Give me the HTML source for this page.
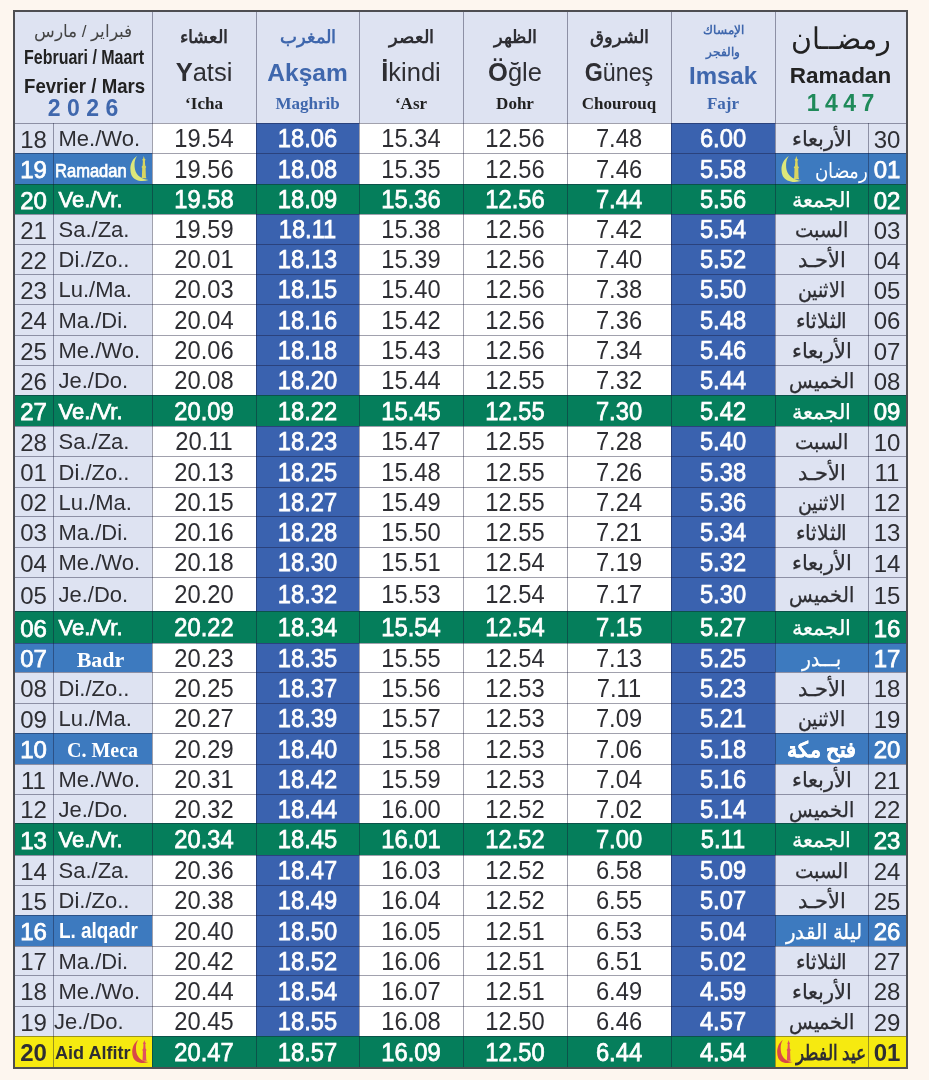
<!DOCTYPE html><html><head><meta charset="utf-8"><style>
html,body{margin:0;padding:0}
body{width:929px;height:1080px;background:#fdf6ef;position:relative;overflow:hidden;font-family:"Liberation Sans",sans-serif;color:#2e2e33}
.c{position:absolute;box-sizing:border-box}
.t{position:absolute;white-space:nowrap;line-height:1}
.hl{position:absolute;height:1px}
.vl{position:absolute;width:1px}
.ser{font-family:"Liberation Serif",serif;font-weight:bold}
.sb{-webkit-text-stroke:.75px currentColor}
</style></head><body><div id="wrap" style="position:absolute;left:0;top:0;width:929px;height:1080px;filter:blur(0.45px)">

<div class="c" style="left:14px;top:10px;width:892px;height:1057px;background:#dee3f2"></div>
<div class="c" style="left:14px;top:123px;width:138px;height:30px;background:#dee3f2"></div>
<div class="c" style="left:775px;top:123px;width:131px;height:30px;background:#dee3f2"></div>
<div class="c" style="left:152px;top:123px;width:104px;height:30px;background:#ffffff"></div>
<div class="c" style="left:256px;top:123px;width:103px;height:30px;background:#3a62af"></div>
<div class="c" style="left:359px;top:123px;width:104px;height:30px;background:#ffffff"></div>
<div class="c" style="left:463px;top:123px;width:104px;height:30px;background:#ffffff"></div>
<div class="c" style="left:567px;top:123px;width:104px;height:30px;background:#ffffff"></div>
<div class="c" style="left:671px;top:123px;width:104px;height:30px;background:#3a62af"></div>
<div class="c" style="left:14px;top:153px;width:138px;height:31px;background:#3d7abf"></div>
<div class="c" style="left:775px;top:153px;width:131px;height:31px;background:#3d7abf"></div>
<div class="c" style="left:152px;top:153px;width:104px;height:31px;background:#ffffff"></div>
<div class="c" style="left:256px;top:153px;width:103px;height:31px;background:#3a62af"></div>
<div class="c" style="left:359px;top:153px;width:104px;height:31px;background:#ffffff"></div>
<div class="c" style="left:463px;top:153px;width:104px;height:31px;background:#ffffff"></div>
<div class="c" style="left:567px;top:153px;width:104px;height:31px;background:#ffffff"></div>
<div class="c" style="left:671px;top:153px;width:104px;height:31px;background:#3a62af"></div>
<div class="c" style="left:14px;top:184px;width:138px;height:30px;background:#057e5b"></div>
<div class="c" style="left:775px;top:184px;width:131px;height:30px;background:#057e5b"></div>
<div class="c" style="left:152px;top:184px;width:104px;height:30px;background:#057e5b"></div>
<div class="c" style="left:256px;top:184px;width:103px;height:30px;background:#057e5b"></div>
<div class="c" style="left:359px;top:184px;width:104px;height:30px;background:#057e5b"></div>
<div class="c" style="left:463px;top:184px;width:104px;height:30px;background:#057e5b"></div>
<div class="c" style="left:567px;top:184px;width:104px;height:30px;background:#057e5b"></div>
<div class="c" style="left:671px;top:184px;width:104px;height:30px;background:#057e5b"></div>
<div class="c" style="left:14px;top:214px;width:138px;height:30px;background:#dee3f2"></div>
<div class="c" style="left:775px;top:214px;width:131px;height:30px;background:#dee3f2"></div>
<div class="c" style="left:152px;top:214px;width:104px;height:30px;background:#ffffff"></div>
<div class="c" style="left:256px;top:214px;width:103px;height:30px;background:#3a62af"></div>
<div class="c" style="left:359px;top:214px;width:104px;height:30px;background:#ffffff"></div>
<div class="c" style="left:463px;top:214px;width:104px;height:30px;background:#ffffff"></div>
<div class="c" style="left:567px;top:214px;width:104px;height:30px;background:#ffffff"></div>
<div class="c" style="left:671px;top:214px;width:104px;height:30px;background:#3a62af"></div>
<div class="c" style="left:14px;top:244px;width:138px;height:30px;background:#dee3f2"></div>
<div class="c" style="left:775px;top:244px;width:131px;height:30px;background:#dee3f2"></div>
<div class="c" style="left:152px;top:244px;width:104px;height:30px;background:#ffffff"></div>
<div class="c" style="left:256px;top:244px;width:103px;height:30px;background:#3a62af"></div>
<div class="c" style="left:359px;top:244px;width:104px;height:30px;background:#ffffff"></div>
<div class="c" style="left:463px;top:244px;width:104px;height:30px;background:#ffffff"></div>
<div class="c" style="left:567px;top:244px;width:104px;height:30px;background:#ffffff"></div>
<div class="c" style="left:671px;top:244px;width:104px;height:30px;background:#3a62af"></div>
<div class="c" style="left:14px;top:274px;width:138px;height:30px;background:#dee3f2"></div>
<div class="c" style="left:775px;top:274px;width:131px;height:30px;background:#dee3f2"></div>
<div class="c" style="left:152px;top:274px;width:104px;height:30px;background:#ffffff"></div>
<div class="c" style="left:256px;top:274px;width:103px;height:30px;background:#3a62af"></div>
<div class="c" style="left:359px;top:274px;width:104px;height:30px;background:#ffffff"></div>
<div class="c" style="left:463px;top:274px;width:104px;height:30px;background:#ffffff"></div>
<div class="c" style="left:567px;top:274px;width:104px;height:30px;background:#ffffff"></div>
<div class="c" style="left:671px;top:274px;width:104px;height:30px;background:#3a62af"></div>
<div class="c" style="left:14px;top:304px;width:138px;height:31px;background:#dee3f2"></div>
<div class="c" style="left:775px;top:304px;width:131px;height:31px;background:#dee3f2"></div>
<div class="c" style="left:152px;top:304px;width:104px;height:31px;background:#ffffff"></div>
<div class="c" style="left:256px;top:304px;width:103px;height:31px;background:#3a62af"></div>
<div class="c" style="left:359px;top:304px;width:104px;height:31px;background:#ffffff"></div>
<div class="c" style="left:463px;top:304px;width:104px;height:31px;background:#ffffff"></div>
<div class="c" style="left:567px;top:304px;width:104px;height:31px;background:#ffffff"></div>
<div class="c" style="left:671px;top:304px;width:104px;height:31px;background:#3a62af"></div>
<div class="c" style="left:14px;top:335px;width:138px;height:30px;background:#dee3f2"></div>
<div class="c" style="left:775px;top:335px;width:131px;height:30px;background:#dee3f2"></div>
<div class="c" style="left:152px;top:335px;width:104px;height:30px;background:#ffffff"></div>
<div class="c" style="left:256px;top:335px;width:103px;height:30px;background:#3a62af"></div>
<div class="c" style="left:359px;top:335px;width:104px;height:30px;background:#ffffff"></div>
<div class="c" style="left:463px;top:335px;width:104px;height:30px;background:#ffffff"></div>
<div class="c" style="left:567px;top:335px;width:104px;height:30px;background:#ffffff"></div>
<div class="c" style="left:671px;top:335px;width:104px;height:30px;background:#3a62af"></div>
<div class="c" style="left:14px;top:365px;width:138px;height:30px;background:#dee3f2"></div>
<div class="c" style="left:775px;top:365px;width:131px;height:30px;background:#dee3f2"></div>
<div class="c" style="left:152px;top:365px;width:104px;height:30px;background:#ffffff"></div>
<div class="c" style="left:256px;top:365px;width:103px;height:30px;background:#3a62af"></div>
<div class="c" style="left:359px;top:365px;width:104px;height:30px;background:#ffffff"></div>
<div class="c" style="left:463px;top:365px;width:104px;height:30px;background:#ffffff"></div>
<div class="c" style="left:567px;top:365px;width:104px;height:30px;background:#ffffff"></div>
<div class="c" style="left:671px;top:365px;width:104px;height:30px;background:#3a62af"></div>
<div class="c" style="left:14px;top:395px;width:138px;height:31px;background:#057e5b"></div>
<div class="c" style="left:775px;top:395px;width:131px;height:31px;background:#057e5b"></div>
<div class="c" style="left:152px;top:395px;width:104px;height:31px;background:#057e5b"></div>
<div class="c" style="left:256px;top:395px;width:103px;height:31px;background:#057e5b"></div>
<div class="c" style="left:359px;top:395px;width:104px;height:31px;background:#057e5b"></div>
<div class="c" style="left:463px;top:395px;width:104px;height:31px;background:#057e5b"></div>
<div class="c" style="left:567px;top:395px;width:104px;height:31px;background:#057e5b"></div>
<div class="c" style="left:671px;top:395px;width:104px;height:31px;background:#057e5b"></div>
<div class="c" style="left:14px;top:426px;width:138px;height:30px;background:#dee3f2"></div>
<div class="c" style="left:775px;top:426px;width:131px;height:30px;background:#dee3f2"></div>
<div class="c" style="left:152px;top:426px;width:104px;height:30px;background:#ffffff"></div>
<div class="c" style="left:256px;top:426px;width:103px;height:30px;background:#3a62af"></div>
<div class="c" style="left:359px;top:426px;width:104px;height:30px;background:#ffffff"></div>
<div class="c" style="left:463px;top:426px;width:104px;height:30px;background:#ffffff"></div>
<div class="c" style="left:567px;top:426px;width:104px;height:30px;background:#ffffff"></div>
<div class="c" style="left:671px;top:426px;width:104px;height:30px;background:#3a62af"></div>
<div class="c" style="left:14px;top:456px;width:138px;height:31px;background:#dee3f2"></div>
<div class="c" style="left:775px;top:456px;width:131px;height:31px;background:#dee3f2"></div>
<div class="c" style="left:152px;top:456px;width:104px;height:31px;background:#ffffff"></div>
<div class="c" style="left:256px;top:456px;width:103px;height:31px;background:#3a62af"></div>
<div class="c" style="left:359px;top:456px;width:104px;height:31px;background:#ffffff"></div>
<div class="c" style="left:463px;top:456px;width:104px;height:31px;background:#ffffff"></div>
<div class="c" style="left:567px;top:456px;width:104px;height:31px;background:#ffffff"></div>
<div class="c" style="left:671px;top:456px;width:104px;height:31px;background:#3a62af"></div>
<div class="c" style="left:14px;top:487px;width:138px;height:29px;background:#dee3f2"></div>
<div class="c" style="left:775px;top:487px;width:131px;height:29px;background:#dee3f2"></div>
<div class="c" style="left:152px;top:487px;width:104px;height:29px;background:#ffffff"></div>
<div class="c" style="left:256px;top:487px;width:103px;height:29px;background:#3a62af"></div>
<div class="c" style="left:359px;top:487px;width:104px;height:29px;background:#ffffff"></div>
<div class="c" style="left:463px;top:487px;width:104px;height:29px;background:#ffffff"></div>
<div class="c" style="left:567px;top:487px;width:104px;height:29px;background:#ffffff"></div>
<div class="c" style="left:671px;top:487px;width:104px;height:29px;background:#3a62af"></div>
<div class="c" style="left:14px;top:516px;width:138px;height:31px;background:#dee3f2"></div>
<div class="c" style="left:775px;top:516px;width:131px;height:31px;background:#dee3f2"></div>
<div class="c" style="left:152px;top:516px;width:104px;height:31px;background:#ffffff"></div>
<div class="c" style="left:256px;top:516px;width:103px;height:31px;background:#3a62af"></div>
<div class="c" style="left:359px;top:516px;width:104px;height:31px;background:#ffffff"></div>
<div class="c" style="left:463px;top:516px;width:104px;height:31px;background:#ffffff"></div>
<div class="c" style="left:567px;top:516px;width:104px;height:31px;background:#ffffff"></div>
<div class="c" style="left:671px;top:516px;width:104px;height:31px;background:#3a62af"></div>
<div class="c" style="left:14px;top:547px;width:138px;height:30px;background:#dee3f2"></div>
<div class="c" style="left:775px;top:547px;width:131px;height:30px;background:#dee3f2"></div>
<div class="c" style="left:152px;top:547px;width:104px;height:30px;background:#ffffff"></div>
<div class="c" style="left:256px;top:547px;width:103px;height:30px;background:#3a62af"></div>
<div class="c" style="left:359px;top:547px;width:104px;height:30px;background:#ffffff"></div>
<div class="c" style="left:463px;top:547px;width:104px;height:30px;background:#ffffff"></div>
<div class="c" style="left:567px;top:547px;width:104px;height:30px;background:#ffffff"></div>
<div class="c" style="left:671px;top:547px;width:104px;height:30px;background:#3a62af"></div>
<div class="c" style="left:14px;top:577px;width:138px;height:34px;background:#dee3f2"></div>
<div class="c" style="left:775px;top:577px;width:131px;height:34px;background:#dee3f2"></div>
<div class="c" style="left:152px;top:577px;width:104px;height:34px;background:#ffffff"></div>
<div class="c" style="left:256px;top:577px;width:103px;height:34px;background:#3a62af"></div>
<div class="c" style="left:359px;top:577px;width:104px;height:34px;background:#ffffff"></div>
<div class="c" style="left:463px;top:577px;width:104px;height:34px;background:#ffffff"></div>
<div class="c" style="left:567px;top:577px;width:104px;height:34px;background:#ffffff"></div>
<div class="c" style="left:671px;top:577px;width:104px;height:34px;background:#3a62af"></div>
<div class="c" style="left:14px;top:611px;width:138px;height:32px;background:#057e5b"></div>
<div class="c" style="left:775px;top:611px;width:131px;height:32px;background:#057e5b"></div>
<div class="c" style="left:152px;top:611px;width:104px;height:32px;background:#057e5b"></div>
<div class="c" style="left:256px;top:611px;width:103px;height:32px;background:#057e5b"></div>
<div class="c" style="left:359px;top:611px;width:104px;height:32px;background:#057e5b"></div>
<div class="c" style="left:463px;top:611px;width:104px;height:32px;background:#057e5b"></div>
<div class="c" style="left:567px;top:611px;width:104px;height:32px;background:#057e5b"></div>
<div class="c" style="left:671px;top:611px;width:104px;height:32px;background:#057e5b"></div>
<div class="c" style="left:14px;top:643px;width:138px;height:29px;background:#3d7abf"></div>
<div class="c" style="left:775px;top:643px;width:131px;height:29px;background:#3d7abf"></div>
<div class="c" style="left:152px;top:643px;width:104px;height:29px;background:#ffffff"></div>
<div class="c" style="left:256px;top:643px;width:103px;height:29px;background:#3a62af"></div>
<div class="c" style="left:359px;top:643px;width:104px;height:29px;background:#ffffff"></div>
<div class="c" style="left:463px;top:643px;width:104px;height:29px;background:#ffffff"></div>
<div class="c" style="left:567px;top:643px;width:104px;height:29px;background:#ffffff"></div>
<div class="c" style="left:671px;top:643px;width:104px;height:29px;background:#3a62af"></div>
<div class="c" style="left:14px;top:672px;width:138px;height:31px;background:#dee3f2"></div>
<div class="c" style="left:775px;top:672px;width:131px;height:31px;background:#dee3f2"></div>
<div class="c" style="left:152px;top:672px;width:104px;height:31px;background:#ffffff"></div>
<div class="c" style="left:256px;top:672px;width:103px;height:31px;background:#3a62af"></div>
<div class="c" style="left:359px;top:672px;width:104px;height:31px;background:#ffffff"></div>
<div class="c" style="left:463px;top:672px;width:104px;height:31px;background:#ffffff"></div>
<div class="c" style="left:567px;top:672px;width:104px;height:31px;background:#ffffff"></div>
<div class="c" style="left:671px;top:672px;width:104px;height:31px;background:#3a62af"></div>
<div class="c" style="left:14px;top:703px;width:138px;height:30px;background:#dee3f2"></div>
<div class="c" style="left:775px;top:703px;width:131px;height:30px;background:#dee3f2"></div>
<div class="c" style="left:152px;top:703px;width:104px;height:30px;background:#ffffff"></div>
<div class="c" style="left:256px;top:703px;width:103px;height:30px;background:#3a62af"></div>
<div class="c" style="left:359px;top:703px;width:104px;height:30px;background:#ffffff"></div>
<div class="c" style="left:463px;top:703px;width:104px;height:30px;background:#ffffff"></div>
<div class="c" style="left:567px;top:703px;width:104px;height:30px;background:#ffffff"></div>
<div class="c" style="left:671px;top:703px;width:104px;height:30px;background:#3a62af"></div>
<div class="c" style="left:14px;top:733px;width:138px;height:31px;background:#3d7abf"></div>
<div class="c" style="left:775px;top:733px;width:131px;height:31px;background:#3d7abf"></div>
<div class="c" style="left:152px;top:733px;width:104px;height:31px;background:#ffffff"></div>
<div class="c" style="left:256px;top:733px;width:103px;height:31px;background:#3a62af"></div>
<div class="c" style="left:359px;top:733px;width:104px;height:31px;background:#ffffff"></div>
<div class="c" style="left:463px;top:733px;width:104px;height:31px;background:#ffffff"></div>
<div class="c" style="left:567px;top:733px;width:104px;height:31px;background:#ffffff"></div>
<div class="c" style="left:671px;top:733px;width:104px;height:31px;background:#3a62af"></div>
<div class="c" style="left:14px;top:764px;width:138px;height:30px;background:#dee3f2"></div>
<div class="c" style="left:775px;top:764px;width:131px;height:30px;background:#dee3f2"></div>
<div class="c" style="left:152px;top:764px;width:104px;height:30px;background:#ffffff"></div>
<div class="c" style="left:256px;top:764px;width:103px;height:30px;background:#3a62af"></div>
<div class="c" style="left:359px;top:764px;width:104px;height:30px;background:#ffffff"></div>
<div class="c" style="left:463px;top:764px;width:104px;height:30px;background:#ffffff"></div>
<div class="c" style="left:567px;top:764px;width:104px;height:30px;background:#ffffff"></div>
<div class="c" style="left:671px;top:764px;width:104px;height:30px;background:#3a62af"></div>
<div class="c" style="left:14px;top:794px;width:138px;height:29px;background:#dee3f2"></div>
<div class="c" style="left:775px;top:794px;width:131px;height:29px;background:#dee3f2"></div>
<div class="c" style="left:152px;top:794px;width:104px;height:29px;background:#ffffff"></div>
<div class="c" style="left:256px;top:794px;width:103px;height:29px;background:#3a62af"></div>
<div class="c" style="left:359px;top:794px;width:104px;height:29px;background:#ffffff"></div>
<div class="c" style="left:463px;top:794px;width:104px;height:29px;background:#ffffff"></div>
<div class="c" style="left:567px;top:794px;width:104px;height:29px;background:#ffffff"></div>
<div class="c" style="left:671px;top:794px;width:104px;height:29px;background:#3a62af"></div>
<div class="c" style="left:14px;top:823px;width:138px;height:32px;background:#057e5b"></div>
<div class="c" style="left:775px;top:823px;width:131px;height:32px;background:#057e5b"></div>
<div class="c" style="left:152px;top:823px;width:104px;height:32px;background:#057e5b"></div>
<div class="c" style="left:256px;top:823px;width:103px;height:32px;background:#057e5b"></div>
<div class="c" style="left:359px;top:823px;width:104px;height:32px;background:#057e5b"></div>
<div class="c" style="left:463px;top:823px;width:104px;height:32px;background:#057e5b"></div>
<div class="c" style="left:567px;top:823px;width:104px;height:32px;background:#057e5b"></div>
<div class="c" style="left:671px;top:823px;width:104px;height:32px;background:#057e5b"></div>
<div class="c" style="left:14px;top:855px;width:138px;height:30px;background:#dee3f2"></div>
<div class="c" style="left:775px;top:855px;width:131px;height:30px;background:#dee3f2"></div>
<div class="c" style="left:152px;top:855px;width:104px;height:30px;background:#ffffff"></div>
<div class="c" style="left:256px;top:855px;width:103px;height:30px;background:#3a62af"></div>
<div class="c" style="left:359px;top:855px;width:104px;height:30px;background:#ffffff"></div>
<div class="c" style="left:463px;top:855px;width:104px;height:30px;background:#ffffff"></div>
<div class="c" style="left:567px;top:855px;width:104px;height:30px;background:#ffffff"></div>
<div class="c" style="left:671px;top:855px;width:104px;height:30px;background:#3a62af"></div>
<div class="c" style="left:14px;top:885px;width:138px;height:30px;background:#dee3f2"></div>
<div class="c" style="left:775px;top:885px;width:131px;height:30px;background:#dee3f2"></div>
<div class="c" style="left:152px;top:885px;width:104px;height:30px;background:#ffffff"></div>
<div class="c" style="left:256px;top:885px;width:103px;height:30px;background:#3a62af"></div>
<div class="c" style="left:359px;top:885px;width:104px;height:30px;background:#ffffff"></div>
<div class="c" style="left:463px;top:885px;width:104px;height:30px;background:#ffffff"></div>
<div class="c" style="left:567px;top:885px;width:104px;height:30px;background:#ffffff"></div>
<div class="c" style="left:671px;top:885px;width:104px;height:30px;background:#3a62af"></div>
<div class="c" style="left:14px;top:915px;width:138px;height:31px;background:#3d7abf"></div>
<div class="c" style="left:775px;top:915px;width:131px;height:31px;background:#3d7abf"></div>
<div class="c" style="left:152px;top:915px;width:104px;height:31px;background:#ffffff"></div>
<div class="c" style="left:256px;top:915px;width:103px;height:31px;background:#3a62af"></div>
<div class="c" style="left:359px;top:915px;width:104px;height:31px;background:#ffffff"></div>
<div class="c" style="left:463px;top:915px;width:104px;height:31px;background:#ffffff"></div>
<div class="c" style="left:567px;top:915px;width:104px;height:31px;background:#ffffff"></div>
<div class="c" style="left:671px;top:915px;width:104px;height:31px;background:#3a62af"></div>
<div class="c" style="left:14px;top:946px;width:138px;height:29px;background:#dee3f2"></div>
<div class="c" style="left:775px;top:946px;width:131px;height:29px;background:#dee3f2"></div>
<div class="c" style="left:152px;top:946px;width:104px;height:29px;background:#ffffff"></div>
<div class="c" style="left:256px;top:946px;width:103px;height:29px;background:#3a62af"></div>
<div class="c" style="left:359px;top:946px;width:104px;height:29px;background:#ffffff"></div>
<div class="c" style="left:463px;top:946px;width:104px;height:29px;background:#ffffff"></div>
<div class="c" style="left:567px;top:946px;width:104px;height:29px;background:#ffffff"></div>
<div class="c" style="left:671px;top:946px;width:104px;height:29px;background:#3a62af"></div>
<div class="c" style="left:14px;top:975px;width:138px;height:31px;background:#dee3f2"></div>
<div class="c" style="left:775px;top:975px;width:131px;height:31px;background:#dee3f2"></div>
<div class="c" style="left:152px;top:975px;width:104px;height:31px;background:#ffffff"></div>
<div class="c" style="left:256px;top:975px;width:103px;height:31px;background:#3a62af"></div>
<div class="c" style="left:359px;top:975px;width:104px;height:31px;background:#ffffff"></div>
<div class="c" style="left:463px;top:975px;width:104px;height:31px;background:#ffffff"></div>
<div class="c" style="left:567px;top:975px;width:104px;height:31px;background:#ffffff"></div>
<div class="c" style="left:671px;top:975px;width:104px;height:31px;background:#3a62af"></div>
<div class="c" style="left:14px;top:1006px;width:138px;height:30px;background:#dee3f2"></div>
<div class="c" style="left:775px;top:1006px;width:131px;height:30px;background:#dee3f2"></div>
<div class="c" style="left:152px;top:1006px;width:104px;height:30px;background:#ffffff"></div>
<div class="c" style="left:256px;top:1006px;width:103px;height:30px;background:#3a62af"></div>
<div class="c" style="left:359px;top:1006px;width:104px;height:30px;background:#ffffff"></div>
<div class="c" style="left:463px;top:1006px;width:104px;height:30px;background:#ffffff"></div>
<div class="c" style="left:567px;top:1006px;width:104px;height:30px;background:#ffffff"></div>
<div class="c" style="left:671px;top:1006px;width:104px;height:30px;background:#3a62af"></div>
<div class="c" style="left:14px;top:1036px;width:138px;height:31px;background:#f6ea10"></div>
<div class="c" style="left:775px;top:1036px;width:131px;height:31px;background:#f6ea10"></div>
<div class="c" style="left:152px;top:1036px;width:104px;height:31px;background:#057e5b"></div>
<div class="c" style="left:256px;top:1036px;width:103px;height:31px;background:#057e5b"></div>
<div class="c" style="left:359px;top:1036px;width:104px;height:31px;background:#057e5b"></div>
<div class="c" style="left:463px;top:1036px;width:104px;height:31px;background:#057e5b"></div>
<div class="c" style="left:567px;top:1036px;width:104px;height:31px;background:#057e5b"></div>
<div class="c" style="left:671px;top:1036px;width:104px;height:31px;background:#057e5b"></div>
<div class="hl" style="left:14px;top:123px;width:892px;background:rgba(20,20,50,.4)"></div>
<div class="hl" style="left:14px;top:153px;width:892px;background:rgba(20,20,50,.4)"></div>
<div class="hl" style="left:14px;top:184px;width:892px;background:rgba(20,20,50,.4)"></div>
<div class="hl" style="left:14px;top:214px;width:892px;background:rgba(20,20,50,.4)"></div>
<div class="hl" style="left:14px;top:244px;width:892px;background:rgba(20,20,50,.4)"></div>
<div class="hl" style="left:14px;top:274px;width:892px;background:rgba(20,20,50,.4)"></div>
<div class="hl" style="left:14px;top:304px;width:892px;background:rgba(20,20,50,.4)"></div>
<div class="hl" style="left:14px;top:335px;width:892px;background:rgba(20,20,50,.4)"></div>
<div class="hl" style="left:14px;top:365px;width:892px;background:rgba(20,20,50,.4)"></div>
<div class="hl" style="left:14px;top:395px;width:892px;background:rgba(20,20,50,.4)"></div>
<div class="hl" style="left:14px;top:426px;width:892px;background:rgba(20,20,50,.4)"></div>
<div class="hl" style="left:14px;top:456px;width:892px;background:rgba(20,20,50,.4)"></div>
<div class="hl" style="left:14px;top:487px;width:892px;background:rgba(20,20,50,.4)"></div>
<div class="hl" style="left:14px;top:516px;width:892px;background:rgba(20,20,50,.4)"></div>
<div class="hl" style="left:14px;top:547px;width:892px;background:rgba(20,20,50,.4)"></div>
<div class="hl" style="left:14px;top:577px;width:892px;background:rgba(20,20,50,.4)"></div>
<div class="hl" style="left:14px;top:611px;width:892px;background:rgba(20,20,50,.4)"></div>
<div class="hl" style="left:14px;top:643px;width:892px;background:rgba(20,20,50,.4)"></div>
<div class="hl" style="left:14px;top:672px;width:892px;background:rgba(20,20,50,.4)"></div>
<div class="hl" style="left:14px;top:703px;width:892px;background:rgba(20,20,50,.4)"></div>
<div class="hl" style="left:14px;top:733px;width:892px;background:rgba(20,20,50,.4)"></div>
<div class="hl" style="left:14px;top:764px;width:892px;background:rgba(20,20,50,.4)"></div>
<div class="hl" style="left:14px;top:794px;width:892px;background:rgba(20,20,50,.4)"></div>
<div class="hl" style="left:14px;top:823px;width:892px;background:rgba(20,20,50,.4)"></div>
<div class="hl" style="left:14px;top:855px;width:892px;background:rgba(20,20,50,.4)"></div>
<div class="hl" style="left:14px;top:885px;width:892px;background:rgba(20,20,50,.4)"></div>
<div class="hl" style="left:14px;top:915px;width:892px;background:rgba(20,20,50,.4)"></div>
<div class="hl" style="left:14px;top:946px;width:892px;background:rgba(20,20,50,.4)"></div>
<div class="hl" style="left:14px;top:975px;width:892px;background:rgba(20,20,50,.4)"></div>
<div class="hl" style="left:14px;top:1006px;width:892px;background:rgba(20,20,50,.4)"></div>
<div class="hl" style="left:14px;top:1036px;width:892px;background:rgba(20,20,50,.4)"></div>
<div class="hl" style="left:14px;top:1067px;width:892px;background:rgba(20,20,50,.4)"></div>
<div class="vl" style="left:53px;top:123px;height:944px;background:rgba(20,20,50,.4)"></div>
<div class="vl" style="left:152px;top:10px;height:1057px;background:rgba(20,20,50,.4)"></div>
<div class="vl" style="left:256px;top:10px;height:1057px;background:rgba(20,20,50,.4)"></div>
<div class="vl" style="left:359px;top:10px;height:1057px;background:rgba(20,20,50,.4)"></div>
<div class="vl" style="left:463px;top:10px;height:1057px;background:rgba(20,20,50,.4)"></div>
<div class="vl" style="left:567px;top:10px;height:1057px;background:rgba(20,20,50,.4)"></div>
<div class="vl" style="left:671px;top:10px;height:1057px;background:rgba(20,20,50,.4)"></div>
<div class="vl" style="left:775px;top:10px;height:1057px;background:rgba(20,20,50,.4)"></div>
<div class="vl" style="left:868px;top:123px;height:944px;background:rgba(20,20,50,.4)"></div>
<div class="c" style="left:13px;top:10px;width:895px;height:1059px;border:2px solid #4e4e52"></div>
<div class="t" style="left:14px;width:39px;text-align:center;top:127.7px;font-size:24px;font-weight:normal;color:#2e2e33">18</div>
<div class="t" style="left:58.5px;top:128.4px;font-size:22px;color:#2e2e33">Me./Wo.</div>
<div class="t" style="left:152px;width:104px;text-align:center;top:126.10000000000001px;font-size:25.5px;color:#2e2e33;transform:scaleX(.93)">19.54</div>
<div class="t sb" style="left:256px;width:103px;text-align:center;top:126.10000000000001px;font-size:25.5px;color:#fff;transform:scaleX(.93)">18.06</div>
<div class="t" style="left:359px;width:104px;text-align:center;top:126.10000000000001px;font-size:25.5px;color:#2e2e33;transform:scaleX(.93)">15.34</div>
<div class="t" style="left:463px;width:104px;text-align:center;top:126.10000000000001px;font-size:25.5px;color:#2e2e33;transform:scaleX(.93)">12.56</div>
<div class="t" style="left:567px;width:104px;text-align:center;top:126.10000000000001px;font-size:25.5px;color:#2e2e33;transform:scaleX(.93)">7.48</div>
<div class="t sb" style="left:671px;width:104px;text-align:center;top:126.10000000000001px;font-size:25.5px;color:#fff;transform:scaleX(.93)">6.00</div>
<div class="t" dir="rtl" style="left:775px;width:93px;text-align:center;top:128.0px;font-size:21px;font-weight:normal;color:#2e2e33;transform:scaleX(1.0);-webkit-text-stroke:.3px currentColor">الأربعاء</div>
<div class="t" style="left:868px;width:38px;text-align:center;top:127.7px;font-size:24px;font-weight:normal;color:#2e2e33">30</div>
<div class="t sb" style="left:14px;width:39px;text-align:center;top:158.2px;font-size:24px;font-weight:normal;color:#ffffff">19</div>
<div class="t sb" style="left:54.5px;top:160.6px;font-size:19px;color:#fff;transform:scaleX(.87);transform-origin:0 0">Ramadan</div>
<svg style="position:absolute;left:129px;top:155px" width="20" height="27" viewBox="0 0 20 26" preserveAspectRatio="none"><path d="M8 1 C1.5 5 0 13.5 2.5 19.5 C5 24.5 12.5 26.5 19.5 24 C13 23.5 7.5 20 6 14 C5 9 5.5 4.5 8 1 Z" fill="#dde77a"/><path d="M14.8 1 L15.6 3.5 L16.6 4.5 L15.9 5.5 L16.2 10 L17.3 11.5 L16.6 12.5 L16.9 21 L17.5 22.5 L12.3 22.5 L12.9 21 L13.2 12.5 L12.5 11.5 L13.6 10 L13.9 5.5 L13.2 4.5 L14.1 3.5 Z" fill="#d9d560"/></svg>
<div class="t" style="left:152px;width:104px;text-align:center;top:156.6px;font-size:25.5px;color:#2e2e33;transform:scaleX(.93)">19.56</div>
<div class="t sb" style="left:256px;width:103px;text-align:center;top:156.6px;font-size:25.5px;color:#fff;transform:scaleX(.93)">18.08</div>
<div class="t" style="left:359px;width:104px;text-align:center;top:156.6px;font-size:25.5px;color:#2e2e33;transform:scaleX(.93)">15.35</div>
<div class="t" style="left:463px;width:104px;text-align:center;top:156.6px;font-size:25.5px;color:#2e2e33;transform:scaleX(.93)">12.56</div>
<div class="t" style="left:567px;width:104px;text-align:center;top:156.6px;font-size:25.5px;color:#2e2e33;transform:scaleX(.93)">7.46</div>
<div class="t sb" style="left:671px;width:104px;text-align:center;top:156.6px;font-size:25.5px;color:#fff;transform:scaleX(.93)">5.58</div>
<div class="t" dir="rtl" style="left:819px;width:52px;text-align:center;top:159.5px;font-size:21px;color:#fff;transform:scaleX(0.87)">رمضان</div>
<svg style="position:absolute;left:780px;top:155px" width="22" height="28" viewBox="0 0 20 26" preserveAspectRatio="none"><path d="M8 1 C1.5 5 0 13.5 2.5 19.5 C5 24.5 12.5 26.5 19.5 24 C13 23.5 7.5 20 6 14 C5 9 5.5 4.5 8 1 Z" fill="#dde77a"/><path d="M14.8 1 L15.6 3.5 L16.6 4.5 L15.9 5.5 L16.2 10 L17.3 11.5 L16.6 12.5 L16.9 21 L17.5 22.5 L12.3 22.5 L12.9 21 L13.2 12.5 L12.5 11.5 L13.6 10 L13.9 5.5 L13.2 4.5 L14.1 3.5 Z" fill="#d9d560"/></svg>
<div class="t sb" style="left:868px;width:38px;text-align:center;top:158.2px;font-size:24px;font-weight:normal;color:#ffffff">01</div>
<div class="t sb" style="left:14px;width:39px;text-align:center;top:188.7px;font-size:24px;font-weight:normal;color:#ffffff">20</div>
<div class="t sb" style="left:58.5px;top:189.39999999999998px;font-size:22px;color:#ffffff">Ve./Vr.</div>
<div class="t sb" style="left:152px;width:104px;text-align:center;top:187.1px;font-size:25.5px;color:#fff;transform:scaleX(.93)">19.58</div>
<div class="t sb" style="left:256px;width:103px;text-align:center;top:187.1px;font-size:25.5px;color:#fff;transform:scaleX(.93)">18.09</div>
<div class="t sb" style="left:359px;width:104px;text-align:center;top:187.1px;font-size:25.5px;color:#fff;transform:scaleX(.93)">15.36</div>
<div class="t sb" style="left:463px;width:104px;text-align:center;top:187.1px;font-size:25.5px;color:#fff;transform:scaleX(.93)">12.56</div>
<div class="t sb" style="left:567px;width:104px;text-align:center;top:187.1px;font-size:25.5px;color:#fff;transform:scaleX(.93)">7.44</div>
<div class="t sb" style="left:671px;width:104px;text-align:center;top:187.1px;font-size:25.5px;color:#fff;transform:scaleX(.93)">5.56</div>
<div class="t" dir="rtl" style="left:775px;width:93px;text-align:center;top:189.0px;font-size:21px;font-weight:normal;color:#ffffff;transform:scaleX(1.0);-webkit-text-stroke:.3px currentColor">الجمعة</div>
<div class="t sb" style="left:868px;width:38px;text-align:center;top:188.7px;font-size:24px;font-weight:normal;color:#ffffff">02</div>
<div class="t" style="left:14px;width:39px;text-align:center;top:218.7px;font-size:24px;font-weight:normal;color:#2e2e33">21</div>
<div class="t" style="left:58.5px;top:219.39999999999998px;font-size:22px;color:#2e2e33">Sa./Za.</div>
<div class="t" style="left:152px;width:104px;text-align:center;top:217.1px;font-size:25.5px;color:#2e2e33;transform:scaleX(.93)">19.59</div>
<div class="t sb" style="left:256px;width:103px;text-align:center;top:217.1px;font-size:25.5px;color:#fff;transform:scaleX(.93)">18.11</div>
<div class="t" style="left:359px;width:104px;text-align:center;top:217.1px;font-size:25.5px;color:#2e2e33;transform:scaleX(.93)">15.38</div>
<div class="t" style="left:463px;width:104px;text-align:center;top:217.1px;font-size:25.5px;color:#2e2e33;transform:scaleX(.93)">12.56</div>
<div class="t" style="left:567px;width:104px;text-align:center;top:217.1px;font-size:25.5px;color:#2e2e33;transform:scaleX(.93)">7.42</div>
<div class="t sb" style="left:671px;width:104px;text-align:center;top:217.1px;font-size:25.5px;color:#fff;transform:scaleX(.93)">5.54</div>
<div class="t" dir="rtl" style="left:775px;width:93px;text-align:center;top:219.0px;font-size:21px;font-weight:normal;color:#2e2e33;transform:scaleX(0.93);-webkit-text-stroke:.3px currentColor">السبت</div>
<div class="t" style="left:868px;width:38px;text-align:center;top:218.7px;font-size:24px;font-weight:normal;color:#2e2e33">03</div>
<div class="t" style="left:14px;width:39px;text-align:center;top:248.7px;font-size:24px;font-weight:normal;color:#2e2e33">22</div>
<div class="t" style="left:58.5px;top:249.39999999999998px;font-size:22px;color:#2e2e33">Di./Zo..</div>
<div class="t" style="left:152px;width:104px;text-align:center;top:247.1px;font-size:25.5px;color:#2e2e33;transform:scaleX(.93)">20.01</div>
<div class="t sb" style="left:256px;width:103px;text-align:center;top:247.1px;font-size:25.5px;color:#fff;transform:scaleX(.93)">18.13</div>
<div class="t" style="left:359px;width:104px;text-align:center;top:247.1px;font-size:25.5px;color:#2e2e33;transform:scaleX(.93)">15.39</div>
<div class="t" style="left:463px;width:104px;text-align:center;top:247.1px;font-size:25.5px;color:#2e2e33;transform:scaleX(.93)">12.56</div>
<div class="t" style="left:567px;width:104px;text-align:center;top:247.1px;font-size:25.5px;color:#2e2e33;transform:scaleX(.93)">7.40</div>
<div class="t sb" style="left:671px;width:104px;text-align:center;top:247.1px;font-size:25.5px;color:#fff;transform:scaleX(.93)">5.52</div>
<div class="t" dir="rtl" style="left:775px;width:93px;text-align:center;top:249.0px;font-size:21px;font-weight:normal;color:#2e2e33;transform:scaleX(1.0);-webkit-text-stroke:.3px currentColor">الأحـد</div>
<div class="t" style="left:868px;width:38px;text-align:center;top:248.7px;font-size:24px;font-weight:normal;color:#2e2e33">04</div>
<div class="t" style="left:14px;width:39px;text-align:center;top:278.7px;font-size:24px;font-weight:normal;color:#2e2e33">23</div>
<div class="t" style="left:58.5px;top:279.4px;font-size:22px;color:#2e2e33">Lu./Ma.</div>
<div class="t" style="left:152px;width:104px;text-align:center;top:277.09999999999997px;font-size:25.5px;color:#2e2e33;transform:scaleX(.93)">20.03</div>
<div class="t sb" style="left:256px;width:103px;text-align:center;top:277.09999999999997px;font-size:25.5px;color:#fff;transform:scaleX(.93)">18.15</div>
<div class="t" style="left:359px;width:104px;text-align:center;top:277.09999999999997px;font-size:25.5px;color:#2e2e33;transform:scaleX(.93)">15.40</div>
<div class="t" style="left:463px;width:104px;text-align:center;top:277.09999999999997px;font-size:25.5px;color:#2e2e33;transform:scaleX(.93)">12.56</div>
<div class="t" style="left:567px;width:104px;text-align:center;top:277.09999999999997px;font-size:25.5px;color:#2e2e33;transform:scaleX(.93)">7.38</div>
<div class="t sb" style="left:671px;width:104px;text-align:center;top:277.09999999999997px;font-size:25.5px;color:#fff;transform:scaleX(.93)">5.50</div>
<div class="t" dir="rtl" style="left:775px;width:93px;text-align:center;top:279.0px;font-size:21px;font-weight:normal;color:#2e2e33;transform:scaleX(0.91);-webkit-text-stroke:.3px currentColor">الاثنين</div>
<div class="t" style="left:868px;width:38px;text-align:center;top:278.7px;font-size:24px;font-weight:normal;color:#2e2e33">05</div>
<div class="t" style="left:14px;width:39px;text-align:center;top:309.2px;font-size:24px;font-weight:normal;color:#2e2e33">24</div>
<div class="t" style="left:58.5px;top:309.9px;font-size:22px;color:#2e2e33">Ma./Di.</div>
<div class="t" style="left:152px;width:104px;text-align:center;top:307.59999999999997px;font-size:25.5px;color:#2e2e33;transform:scaleX(.93)">20.04</div>
<div class="t sb" style="left:256px;width:103px;text-align:center;top:307.59999999999997px;font-size:25.5px;color:#fff;transform:scaleX(.93)">18.16</div>
<div class="t" style="left:359px;width:104px;text-align:center;top:307.59999999999997px;font-size:25.5px;color:#2e2e33;transform:scaleX(.93)">15.42</div>
<div class="t" style="left:463px;width:104px;text-align:center;top:307.59999999999997px;font-size:25.5px;color:#2e2e33;transform:scaleX(.93)">12.56</div>
<div class="t" style="left:567px;width:104px;text-align:center;top:307.59999999999997px;font-size:25.5px;color:#2e2e33;transform:scaleX(.93)">7.36</div>
<div class="t sb" style="left:671px;width:104px;text-align:center;top:307.59999999999997px;font-size:25.5px;color:#fff;transform:scaleX(.93)">5.48</div>
<div class="t" dir="rtl" style="left:775px;width:93px;text-align:center;top:309.5px;font-size:21px;font-weight:normal;color:#2e2e33;transform:scaleX(0.97);-webkit-text-stroke:.3px currentColor">الثلاثاء</div>
<div class="t" style="left:868px;width:38px;text-align:center;top:309.2px;font-size:24px;font-weight:normal;color:#2e2e33">06</div>
<div class="t" style="left:14px;width:39px;text-align:center;top:339.7px;font-size:24px;font-weight:normal;color:#2e2e33">25</div>
<div class="t" style="left:58.5px;top:340.4px;font-size:22px;color:#2e2e33">Me./Wo.</div>
<div class="t" style="left:152px;width:104px;text-align:center;top:338.09999999999997px;font-size:25.5px;color:#2e2e33;transform:scaleX(.93)">20.06</div>
<div class="t sb" style="left:256px;width:103px;text-align:center;top:338.09999999999997px;font-size:25.5px;color:#fff;transform:scaleX(.93)">18.18</div>
<div class="t" style="left:359px;width:104px;text-align:center;top:338.09999999999997px;font-size:25.5px;color:#2e2e33;transform:scaleX(.93)">15.43</div>
<div class="t" style="left:463px;width:104px;text-align:center;top:338.09999999999997px;font-size:25.5px;color:#2e2e33;transform:scaleX(.93)">12.56</div>
<div class="t" style="left:567px;width:104px;text-align:center;top:338.09999999999997px;font-size:25.5px;color:#2e2e33;transform:scaleX(.93)">7.34</div>
<div class="t sb" style="left:671px;width:104px;text-align:center;top:338.09999999999997px;font-size:25.5px;color:#fff;transform:scaleX(.93)">5.46</div>
<div class="t" dir="rtl" style="left:775px;width:93px;text-align:center;top:340.0px;font-size:21px;font-weight:normal;color:#2e2e33;transform:scaleX(1.0);-webkit-text-stroke:.3px currentColor">الأربعاء</div>
<div class="t" style="left:868px;width:38px;text-align:center;top:339.7px;font-size:24px;font-weight:normal;color:#2e2e33">07</div>
<div class="t" style="left:14px;width:39px;text-align:center;top:369.7px;font-size:24px;font-weight:normal;color:#2e2e33">26</div>
<div class="t" style="left:58.5px;top:370.4px;font-size:22px;color:#2e2e33">Je./Do.</div>
<div class="t" style="left:152px;width:104px;text-align:center;top:368.09999999999997px;font-size:25.5px;color:#2e2e33;transform:scaleX(.93)">20.08</div>
<div class="t sb" style="left:256px;width:103px;text-align:center;top:368.09999999999997px;font-size:25.5px;color:#fff;transform:scaleX(.93)">18.20</div>
<div class="t" style="left:359px;width:104px;text-align:center;top:368.09999999999997px;font-size:25.5px;color:#2e2e33;transform:scaleX(.93)">15.44</div>
<div class="t" style="left:463px;width:104px;text-align:center;top:368.09999999999997px;font-size:25.5px;color:#2e2e33;transform:scaleX(.93)">12.55</div>
<div class="t" style="left:567px;width:104px;text-align:center;top:368.09999999999997px;font-size:25.5px;color:#2e2e33;transform:scaleX(.93)">7.32</div>
<div class="t sb" style="left:671px;width:104px;text-align:center;top:368.09999999999997px;font-size:25.5px;color:#fff;transform:scaleX(.93)">5.44</div>
<div class="t" dir="rtl" style="left:775px;width:93px;text-align:center;top:370.0px;font-size:21px;font-weight:normal;color:#2e2e33;transform:scaleX(0.92);-webkit-text-stroke:.3px currentColor">الخميس</div>
<div class="t" style="left:868px;width:38px;text-align:center;top:369.7px;font-size:24px;font-weight:normal;color:#2e2e33">08</div>
<div class="t sb" style="left:14px;width:39px;text-align:center;top:400.2px;font-size:24px;font-weight:normal;color:#ffffff">27</div>
<div class="t sb" style="left:58.5px;top:400.9px;font-size:22px;color:#ffffff">Ve./Vr.</div>
<div class="t sb" style="left:152px;width:104px;text-align:center;top:398.59999999999997px;font-size:25.5px;color:#fff;transform:scaleX(.93)">20.09</div>
<div class="t sb" style="left:256px;width:103px;text-align:center;top:398.59999999999997px;font-size:25.5px;color:#fff;transform:scaleX(.93)">18.22</div>
<div class="t sb" style="left:359px;width:104px;text-align:center;top:398.59999999999997px;font-size:25.5px;color:#fff;transform:scaleX(.93)">15.45</div>
<div class="t sb" style="left:463px;width:104px;text-align:center;top:398.59999999999997px;font-size:25.5px;color:#fff;transform:scaleX(.93)">12.55</div>
<div class="t sb" style="left:567px;width:104px;text-align:center;top:398.59999999999997px;font-size:25.5px;color:#fff;transform:scaleX(.93)">7.30</div>
<div class="t sb" style="left:671px;width:104px;text-align:center;top:398.59999999999997px;font-size:25.5px;color:#fff;transform:scaleX(.93)">5.42</div>
<div class="t" dir="rtl" style="left:775px;width:93px;text-align:center;top:400.5px;font-size:21px;font-weight:normal;color:#ffffff;transform:scaleX(1.0);-webkit-text-stroke:.3px currentColor">الجمعة</div>
<div class="t sb" style="left:868px;width:38px;text-align:center;top:400.2px;font-size:24px;font-weight:normal;color:#ffffff">09</div>
<div class="t" style="left:14px;width:39px;text-align:center;top:430.7px;font-size:24px;font-weight:normal;color:#2e2e33">28</div>
<div class="t" style="left:58.5px;top:431.4px;font-size:22px;color:#2e2e33">Sa./Za.</div>
<div class="t" style="left:152px;width:104px;text-align:center;top:429.09999999999997px;font-size:25.5px;color:#2e2e33;transform:scaleX(.93)">20.11</div>
<div class="t sb" style="left:256px;width:103px;text-align:center;top:429.09999999999997px;font-size:25.5px;color:#fff;transform:scaleX(.93)">18.23</div>
<div class="t" style="left:359px;width:104px;text-align:center;top:429.09999999999997px;font-size:25.5px;color:#2e2e33;transform:scaleX(.93)">15.47</div>
<div class="t" style="left:463px;width:104px;text-align:center;top:429.09999999999997px;font-size:25.5px;color:#2e2e33;transform:scaleX(.93)">12.55</div>
<div class="t" style="left:567px;width:104px;text-align:center;top:429.09999999999997px;font-size:25.5px;color:#2e2e33;transform:scaleX(.93)">7.28</div>
<div class="t sb" style="left:671px;width:104px;text-align:center;top:429.09999999999997px;font-size:25.5px;color:#fff;transform:scaleX(.93)">5.40</div>
<div class="t" dir="rtl" style="left:775px;width:93px;text-align:center;top:431.0px;font-size:21px;font-weight:normal;color:#2e2e33;transform:scaleX(0.93);-webkit-text-stroke:.3px currentColor">السبت</div>
<div class="t" style="left:868px;width:38px;text-align:center;top:430.7px;font-size:24px;font-weight:normal;color:#2e2e33">10</div>
<div class="t" style="left:14px;width:39px;text-align:center;top:461.2px;font-size:24px;font-weight:normal;color:#2e2e33">01</div>
<div class="t" style="left:58.5px;top:461.9px;font-size:22px;color:#2e2e33">Di./Zo..</div>
<div class="t" style="left:152px;width:104px;text-align:center;top:459.59999999999997px;font-size:25.5px;color:#2e2e33;transform:scaleX(.93)">20.13</div>
<div class="t sb" style="left:256px;width:103px;text-align:center;top:459.59999999999997px;font-size:25.5px;color:#fff;transform:scaleX(.93)">18.25</div>
<div class="t" style="left:359px;width:104px;text-align:center;top:459.59999999999997px;font-size:25.5px;color:#2e2e33;transform:scaleX(.93)">15.48</div>
<div class="t" style="left:463px;width:104px;text-align:center;top:459.59999999999997px;font-size:25.5px;color:#2e2e33;transform:scaleX(.93)">12.55</div>
<div class="t" style="left:567px;width:104px;text-align:center;top:459.59999999999997px;font-size:25.5px;color:#2e2e33;transform:scaleX(.93)">7.26</div>
<div class="t sb" style="left:671px;width:104px;text-align:center;top:459.59999999999997px;font-size:25.5px;color:#fff;transform:scaleX(.93)">5.38</div>
<div class="t" dir="rtl" style="left:775px;width:93px;text-align:center;top:461.5px;font-size:21px;font-weight:normal;color:#2e2e33;transform:scaleX(1.0);-webkit-text-stroke:.3px currentColor">الأحـد</div>
<div class="t" style="left:868px;width:38px;text-align:center;top:461.2px;font-size:24px;font-weight:normal;color:#2e2e33">11</div>
<div class="t" style="left:14px;width:39px;text-align:center;top:491.2px;font-size:24px;font-weight:normal;color:#2e2e33">02</div>
<div class="t" style="left:58.5px;top:491.9px;font-size:22px;color:#2e2e33">Lu./Ma.</div>
<div class="t" style="left:152px;width:104px;text-align:center;top:489.59999999999997px;font-size:25.5px;color:#2e2e33;transform:scaleX(.93)">20.15</div>
<div class="t sb" style="left:256px;width:103px;text-align:center;top:489.59999999999997px;font-size:25.5px;color:#fff;transform:scaleX(.93)">18.27</div>
<div class="t" style="left:359px;width:104px;text-align:center;top:489.59999999999997px;font-size:25.5px;color:#2e2e33;transform:scaleX(.93)">15.49</div>
<div class="t" style="left:463px;width:104px;text-align:center;top:489.59999999999997px;font-size:25.5px;color:#2e2e33;transform:scaleX(.93)">12.55</div>
<div class="t" style="left:567px;width:104px;text-align:center;top:489.59999999999997px;font-size:25.5px;color:#2e2e33;transform:scaleX(.93)">7.24</div>
<div class="t sb" style="left:671px;width:104px;text-align:center;top:489.59999999999997px;font-size:25.5px;color:#fff;transform:scaleX(.93)">5.36</div>
<div class="t" dir="rtl" style="left:775px;width:93px;text-align:center;top:491.5px;font-size:21px;font-weight:normal;color:#2e2e33;transform:scaleX(0.91);-webkit-text-stroke:.3px currentColor">الاثنين</div>
<div class="t" style="left:868px;width:38px;text-align:center;top:491.2px;font-size:24px;font-weight:normal;color:#2e2e33">12</div>
<div class="t" style="left:14px;width:39px;text-align:center;top:521.2px;font-size:24px;font-weight:normal;color:#2e2e33">03</div>
<div class="t" style="left:58.5px;top:521.9000000000001px;font-size:22px;color:#2e2e33">Ma./Di.</div>
<div class="t" style="left:152px;width:104px;text-align:center;top:519.6px;font-size:25.5px;color:#2e2e33;transform:scaleX(.93)">20.16</div>
<div class="t sb" style="left:256px;width:103px;text-align:center;top:519.6px;font-size:25.5px;color:#fff;transform:scaleX(.93)">18.28</div>
<div class="t" style="left:359px;width:104px;text-align:center;top:519.6px;font-size:25.5px;color:#2e2e33;transform:scaleX(.93)">15.50</div>
<div class="t" style="left:463px;width:104px;text-align:center;top:519.6px;font-size:25.5px;color:#2e2e33;transform:scaleX(.93)">12.55</div>
<div class="t" style="left:567px;width:104px;text-align:center;top:519.6px;font-size:25.5px;color:#2e2e33;transform:scaleX(.93)">7.21</div>
<div class="t sb" style="left:671px;width:104px;text-align:center;top:519.6px;font-size:25.5px;color:#fff;transform:scaleX(.93)">5.34</div>
<div class="t" dir="rtl" style="left:775px;width:93px;text-align:center;top:521.5px;font-size:21px;font-weight:normal;color:#2e2e33;transform:scaleX(0.97);-webkit-text-stroke:.3px currentColor">الثلاثاء</div>
<div class="t" style="left:868px;width:38px;text-align:center;top:521.2px;font-size:24px;font-weight:normal;color:#2e2e33">13</div>
<div class="t" style="left:14px;width:39px;text-align:center;top:551.7px;font-size:24px;font-weight:normal;color:#2e2e33">04</div>
<div class="t" style="left:58.5px;top:552.4000000000001px;font-size:22px;color:#2e2e33">Me./Wo.</div>
<div class="t" style="left:152px;width:104px;text-align:center;top:550.1px;font-size:25.5px;color:#2e2e33;transform:scaleX(.93)">20.18</div>
<div class="t sb" style="left:256px;width:103px;text-align:center;top:550.1px;font-size:25.5px;color:#fff;transform:scaleX(.93)">18.30</div>
<div class="t" style="left:359px;width:104px;text-align:center;top:550.1px;font-size:25.5px;color:#2e2e33;transform:scaleX(.93)">15.51</div>
<div class="t" style="left:463px;width:104px;text-align:center;top:550.1px;font-size:25.5px;color:#2e2e33;transform:scaleX(.93)">12.54</div>
<div class="t" style="left:567px;width:104px;text-align:center;top:550.1px;font-size:25.5px;color:#2e2e33;transform:scaleX(.93)">7.19</div>
<div class="t sb" style="left:671px;width:104px;text-align:center;top:550.1px;font-size:25.5px;color:#fff;transform:scaleX(.93)">5.32</div>
<div class="t" dir="rtl" style="left:775px;width:93px;text-align:center;top:552.0px;font-size:21px;font-weight:normal;color:#2e2e33;transform:scaleX(1.0);-webkit-text-stroke:.3px currentColor">الأربعاء</div>
<div class="t" style="left:868px;width:38px;text-align:center;top:551.7px;font-size:24px;font-weight:normal;color:#2e2e33">14</div>
<div class="t" style="left:14px;width:39px;text-align:center;top:583.7px;font-size:24px;font-weight:normal;color:#2e2e33">05</div>
<div class="t" style="left:58.5px;top:584.4000000000001px;font-size:22px;color:#2e2e33">Je./Do.</div>
<div class="t" style="left:152px;width:104px;text-align:center;top:582.1px;font-size:25.5px;color:#2e2e33;transform:scaleX(.93)">20.20</div>
<div class="t sb" style="left:256px;width:103px;text-align:center;top:582.1px;font-size:25.5px;color:#fff;transform:scaleX(.93)">18.32</div>
<div class="t" style="left:359px;width:104px;text-align:center;top:582.1px;font-size:25.5px;color:#2e2e33;transform:scaleX(.93)">15.53</div>
<div class="t" style="left:463px;width:104px;text-align:center;top:582.1px;font-size:25.5px;color:#2e2e33;transform:scaleX(.93)">12.54</div>
<div class="t" style="left:567px;width:104px;text-align:center;top:582.1px;font-size:25.5px;color:#2e2e33;transform:scaleX(.93)">7.17</div>
<div class="t sb" style="left:671px;width:104px;text-align:center;top:582.1px;font-size:25.5px;color:#fff;transform:scaleX(.93)">5.30</div>
<div class="t" dir="rtl" style="left:775px;width:93px;text-align:center;top:584.0px;font-size:21px;font-weight:normal;color:#2e2e33;transform:scaleX(0.92);-webkit-text-stroke:.3px currentColor">الخميس</div>
<div class="t" style="left:868px;width:38px;text-align:center;top:583.7px;font-size:24px;font-weight:normal;color:#2e2e33">15</div>
<div class="t sb" style="left:14px;width:39px;text-align:center;top:616.7px;font-size:24px;font-weight:normal;color:#ffffff">06</div>
<div class="t sb" style="left:58.5px;top:617.4000000000001px;font-size:22px;color:#ffffff">Ve./Vr.</div>
<div class="t sb" style="left:152px;width:104px;text-align:center;top:615.1px;font-size:25.5px;color:#fff;transform:scaleX(.93)">20.22</div>
<div class="t sb" style="left:256px;width:103px;text-align:center;top:615.1px;font-size:25.5px;color:#fff;transform:scaleX(.93)">18.34</div>
<div class="t sb" style="left:359px;width:104px;text-align:center;top:615.1px;font-size:25.5px;color:#fff;transform:scaleX(.93)">15.54</div>
<div class="t sb" style="left:463px;width:104px;text-align:center;top:615.1px;font-size:25.5px;color:#fff;transform:scaleX(.93)">12.54</div>
<div class="t sb" style="left:567px;width:104px;text-align:center;top:615.1px;font-size:25.5px;color:#fff;transform:scaleX(.93)">7.15</div>
<div class="t sb" style="left:671px;width:104px;text-align:center;top:615.1px;font-size:25.5px;color:#fff;transform:scaleX(.93)">5.27</div>
<div class="t" dir="rtl" style="left:775px;width:93px;text-align:center;top:617.0px;font-size:21px;font-weight:normal;color:#ffffff;transform:scaleX(1.0);-webkit-text-stroke:.3px currentColor">الجمعة</div>
<div class="t sb" style="left:868px;width:38px;text-align:center;top:616.7px;font-size:24px;font-weight:normal;color:#ffffff">16</div>
<div class="t sb" style="left:14px;width:39px;text-align:center;top:647.2px;font-size:24px;font-weight:normal;color:#ffffff">07</div>
<div class="t ser" style="left:51px;width:99px;text-align:center;top:648.575px;font-size:22px;color:#fff">Badr</div>
<div class="t" style="left:152px;width:104px;text-align:center;top:645.6px;font-size:25.5px;color:#2e2e33;transform:scaleX(.93)">20.23</div>
<div class="t sb" style="left:256px;width:103px;text-align:center;top:645.6px;font-size:25.5px;color:#fff;transform:scaleX(.93)">18.35</div>
<div class="t" style="left:359px;width:104px;text-align:center;top:645.6px;font-size:25.5px;color:#2e2e33;transform:scaleX(.93)">15.55</div>
<div class="t" style="left:463px;width:104px;text-align:center;top:645.6px;font-size:25.5px;color:#2e2e33;transform:scaleX(.93)">12.54</div>
<div class="t" style="left:567px;width:104px;text-align:center;top:645.6px;font-size:25.5px;color:#2e2e33;transform:scaleX(.93)">7.13</div>
<div class="t sb" style="left:671px;width:104px;text-align:center;top:645.6px;font-size:25.5px;color:#fff;transform:scaleX(.93)">5.25</div>
<div class="t" dir="rtl" style="left:775px;width:93px;text-align:center;top:647.5px;font-size:21px;font-weight:normal;color:#ffffff;transform:scaleX(0.87);-webkit-text-stroke:.3px currentColor">بـــدر</div>
<div class="t sb" style="left:868px;width:38px;text-align:center;top:647.2px;font-size:24px;font-weight:normal;color:#ffffff">17</div>
<div class="t" style="left:14px;width:39px;text-align:center;top:677.2px;font-size:24px;font-weight:normal;color:#2e2e33">08</div>
<div class="t" style="left:58.5px;top:677.9000000000001px;font-size:22px;color:#2e2e33">Di./Zo..</div>
<div class="t" style="left:152px;width:104px;text-align:center;top:675.6px;font-size:25.5px;color:#2e2e33;transform:scaleX(.93)">20.25</div>
<div class="t sb" style="left:256px;width:103px;text-align:center;top:675.6px;font-size:25.5px;color:#fff;transform:scaleX(.93)">18.37</div>
<div class="t" style="left:359px;width:104px;text-align:center;top:675.6px;font-size:25.5px;color:#2e2e33;transform:scaleX(.93)">15.56</div>
<div class="t" style="left:463px;width:104px;text-align:center;top:675.6px;font-size:25.5px;color:#2e2e33;transform:scaleX(.93)">12.53</div>
<div class="t" style="left:567px;width:104px;text-align:center;top:675.6px;font-size:25.5px;color:#2e2e33;transform:scaleX(.93)">7.11</div>
<div class="t sb" style="left:671px;width:104px;text-align:center;top:675.6px;font-size:25.5px;color:#fff;transform:scaleX(.93)">5.23</div>
<div class="t" dir="rtl" style="left:775px;width:93px;text-align:center;top:677.5px;font-size:21px;font-weight:normal;color:#2e2e33;transform:scaleX(1.0);-webkit-text-stroke:.3px currentColor">الأحـد</div>
<div class="t" style="left:868px;width:38px;text-align:center;top:677.2px;font-size:24px;font-weight:normal;color:#2e2e33">18</div>
<div class="t" style="left:14px;width:39px;text-align:center;top:707.7px;font-size:24px;font-weight:normal;color:#2e2e33">09</div>
<div class="t" style="left:58.5px;top:708.4000000000001px;font-size:22px;color:#2e2e33">Lu./Ma.</div>
<div class="t" style="left:152px;width:104px;text-align:center;top:706.1px;font-size:25.5px;color:#2e2e33;transform:scaleX(.93)">20.27</div>
<div class="t sb" style="left:256px;width:103px;text-align:center;top:706.1px;font-size:25.5px;color:#fff;transform:scaleX(.93)">18.39</div>
<div class="t" style="left:359px;width:104px;text-align:center;top:706.1px;font-size:25.5px;color:#2e2e33;transform:scaleX(.93)">15.57</div>
<div class="t" style="left:463px;width:104px;text-align:center;top:706.1px;font-size:25.5px;color:#2e2e33;transform:scaleX(.93)">12.53</div>
<div class="t" style="left:567px;width:104px;text-align:center;top:706.1px;font-size:25.5px;color:#2e2e33;transform:scaleX(.93)">7.09</div>
<div class="t sb" style="left:671px;width:104px;text-align:center;top:706.1px;font-size:25.5px;color:#fff;transform:scaleX(.93)">5.21</div>
<div class="t" dir="rtl" style="left:775px;width:93px;text-align:center;top:708.0px;font-size:21px;font-weight:normal;color:#2e2e33;transform:scaleX(0.91);-webkit-text-stroke:.3px currentColor">الاثنين</div>
<div class="t" style="left:868px;width:38px;text-align:center;top:707.7px;font-size:24px;font-weight:normal;color:#2e2e33">19</div>
<div class="t sb" style="left:14px;width:39px;text-align:center;top:738.2px;font-size:24px;font-weight:normal;color:#ffffff">10</div>
<div class="t ser" style="left:53px;width:99px;text-align:center;top:740.15px;font-size:20px;color:#fff">C. Meca</div>
<div class="t" style="left:152px;width:104px;text-align:center;top:736.6px;font-size:25.5px;color:#2e2e33;transform:scaleX(.93)">20.29</div>
<div class="t sb" style="left:256px;width:103px;text-align:center;top:736.6px;font-size:25.5px;color:#fff;transform:scaleX(.93)">18.40</div>
<div class="t" style="left:359px;width:104px;text-align:center;top:736.6px;font-size:25.5px;color:#2e2e33;transform:scaleX(.93)">15.58</div>
<div class="t" style="left:463px;width:104px;text-align:center;top:736.6px;font-size:25.5px;color:#2e2e33;transform:scaleX(.93)">12.53</div>
<div class="t" style="left:567px;width:104px;text-align:center;top:736.6px;font-size:25.5px;color:#2e2e33;transform:scaleX(.93)">7.06</div>
<div class="t sb" style="left:671px;width:104px;text-align:center;top:736.6px;font-size:25.5px;color:#fff;transform:scaleX(.93)">5.18</div>
<div class="t" dir="rtl" style="left:775px;width:93px;text-align:center;top:738.5px;font-size:21px;font-weight:bold;color:#ffffff;transform:scaleX(0.98);-webkit-text-stroke:.3px currentColor">فتح مكة</div>
<div class="t sb" style="left:868px;width:38px;text-align:center;top:738.2px;font-size:24px;font-weight:normal;color:#ffffff">20</div>
<div class="t" style="left:14px;width:39px;text-align:center;top:768.7px;font-size:24px;font-weight:normal;color:#2e2e33">11</div>
<div class="t" style="left:58.5px;top:769.4000000000001px;font-size:22px;color:#2e2e33">Me./Wo.</div>
<div class="t" style="left:152px;width:104px;text-align:center;top:767.1px;font-size:25.5px;color:#2e2e33;transform:scaleX(.93)">20.31</div>
<div class="t sb" style="left:256px;width:103px;text-align:center;top:767.1px;font-size:25.5px;color:#fff;transform:scaleX(.93)">18.42</div>
<div class="t" style="left:359px;width:104px;text-align:center;top:767.1px;font-size:25.5px;color:#2e2e33;transform:scaleX(.93)">15.59</div>
<div class="t" style="left:463px;width:104px;text-align:center;top:767.1px;font-size:25.5px;color:#2e2e33;transform:scaleX(.93)">12.53</div>
<div class="t" style="left:567px;width:104px;text-align:center;top:767.1px;font-size:25.5px;color:#2e2e33;transform:scaleX(.93)">7.04</div>
<div class="t sb" style="left:671px;width:104px;text-align:center;top:767.1px;font-size:25.5px;color:#fff;transform:scaleX(.93)">5.16</div>
<div class="t" dir="rtl" style="left:775px;width:93px;text-align:center;top:769.0px;font-size:21px;font-weight:normal;color:#2e2e33;transform:scaleX(1.0);-webkit-text-stroke:.3px currentColor">الأربعاء</div>
<div class="t" style="left:868px;width:38px;text-align:center;top:768.7px;font-size:24px;font-weight:normal;color:#2e2e33">21</div>
<div class="t" style="left:14px;width:39px;text-align:center;top:798.2px;font-size:24px;font-weight:normal;color:#2e2e33">12</div>
<div class="t" style="left:58.5px;top:798.9000000000001px;font-size:22px;color:#2e2e33">Je./Do.</div>
<div class="t" style="left:152px;width:104px;text-align:center;top:796.6px;font-size:25.5px;color:#2e2e33;transform:scaleX(.93)">20.32</div>
<div class="t sb" style="left:256px;width:103px;text-align:center;top:796.6px;font-size:25.5px;color:#fff;transform:scaleX(.93)">18.44</div>
<div class="t" style="left:359px;width:104px;text-align:center;top:796.6px;font-size:25.5px;color:#2e2e33;transform:scaleX(.93)">16.00</div>
<div class="t" style="left:463px;width:104px;text-align:center;top:796.6px;font-size:25.5px;color:#2e2e33;transform:scaleX(.93)">12.52</div>
<div class="t" style="left:567px;width:104px;text-align:center;top:796.6px;font-size:25.5px;color:#2e2e33;transform:scaleX(.93)">7.02</div>
<div class="t sb" style="left:671px;width:104px;text-align:center;top:796.6px;font-size:25.5px;color:#fff;transform:scaleX(.93)">5.14</div>
<div class="t" dir="rtl" style="left:775px;width:93px;text-align:center;top:798.5px;font-size:21px;font-weight:normal;color:#2e2e33;transform:scaleX(0.92);-webkit-text-stroke:.3px currentColor">الخميس</div>
<div class="t" style="left:868px;width:38px;text-align:center;top:798.2px;font-size:24px;font-weight:normal;color:#2e2e33">22</div>
<div class="t sb" style="left:14px;width:39px;text-align:center;top:828.7px;font-size:24px;font-weight:normal;color:#ffffff">13</div>
<div class="t sb" style="left:58.5px;top:829.4000000000001px;font-size:22px;color:#ffffff">Ve./Vr.</div>
<div class="t sb" style="left:152px;width:104px;text-align:center;top:827.1px;font-size:25.5px;color:#fff;transform:scaleX(.93)">20.34</div>
<div class="t sb" style="left:256px;width:103px;text-align:center;top:827.1px;font-size:25.5px;color:#fff;transform:scaleX(.93)">18.45</div>
<div class="t sb" style="left:359px;width:104px;text-align:center;top:827.1px;font-size:25.5px;color:#fff;transform:scaleX(.93)">16.01</div>
<div class="t sb" style="left:463px;width:104px;text-align:center;top:827.1px;font-size:25.5px;color:#fff;transform:scaleX(.93)">12.52</div>
<div class="t sb" style="left:567px;width:104px;text-align:center;top:827.1px;font-size:25.5px;color:#fff;transform:scaleX(.93)">7.00</div>
<div class="t sb" style="left:671px;width:104px;text-align:center;top:827.1px;font-size:25.5px;color:#fff;transform:scaleX(.93)">5.11</div>
<div class="t" dir="rtl" style="left:775px;width:93px;text-align:center;top:829.0px;font-size:21px;font-weight:normal;color:#ffffff;transform:scaleX(1.0);-webkit-text-stroke:.3px currentColor">الجمعة</div>
<div class="t sb" style="left:868px;width:38px;text-align:center;top:828.7px;font-size:24px;font-weight:normal;color:#ffffff">23</div>
<div class="t" style="left:14px;width:39px;text-align:center;top:859.7px;font-size:24px;font-weight:normal;color:#2e2e33">14</div>
<div class="t" style="left:58.5px;top:860.4000000000001px;font-size:22px;color:#2e2e33">Sa./Za.</div>
<div class="t" style="left:152px;width:104px;text-align:center;top:858.1px;font-size:25.5px;color:#2e2e33;transform:scaleX(.93)">20.36</div>
<div class="t sb" style="left:256px;width:103px;text-align:center;top:858.1px;font-size:25.5px;color:#fff;transform:scaleX(.93)">18.47</div>
<div class="t" style="left:359px;width:104px;text-align:center;top:858.1px;font-size:25.5px;color:#2e2e33;transform:scaleX(.93)">16.03</div>
<div class="t" style="left:463px;width:104px;text-align:center;top:858.1px;font-size:25.5px;color:#2e2e33;transform:scaleX(.93)">12.52</div>
<div class="t" style="left:567px;width:104px;text-align:center;top:858.1px;font-size:25.5px;color:#2e2e33;transform:scaleX(.93)">6.58</div>
<div class="t sb" style="left:671px;width:104px;text-align:center;top:858.1px;font-size:25.5px;color:#fff;transform:scaleX(.93)">5.09</div>
<div class="t" dir="rtl" style="left:775px;width:93px;text-align:center;top:860.0px;font-size:21px;font-weight:normal;color:#2e2e33;transform:scaleX(0.93);-webkit-text-stroke:.3px currentColor">السبت</div>
<div class="t" style="left:868px;width:38px;text-align:center;top:859.7px;font-size:24px;font-weight:normal;color:#2e2e33">24</div>
<div class="t" style="left:14px;width:39px;text-align:center;top:889.7px;font-size:24px;font-weight:normal;color:#2e2e33">15</div>
<div class="t" style="left:58.5px;top:890.4000000000001px;font-size:22px;color:#2e2e33">Di./Zo..</div>
<div class="t" style="left:152px;width:104px;text-align:center;top:888.1px;font-size:25.5px;color:#2e2e33;transform:scaleX(.93)">20.38</div>
<div class="t sb" style="left:256px;width:103px;text-align:center;top:888.1px;font-size:25.5px;color:#fff;transform:scaleX(.93)">18.49</div>
<div class="t" style="left:359px;width:104px;text-align:center;top:888.1px;font-size:25.5px;color:#2e2e33;transform:scaleX(.93)">16.04</div>
<div class="t" style="left:463px;width:104px;text-align:center;top:888.1px;font-size:25.5px;color:#2e2e33;transform:scaleX(.93)">12.52</div>
<div class="t" style="left:567px;width:104px;text-align:center;top:888.1px;font-size:25.5px;color:#2e2e33;transform:scaleX(.93)">6.55</div>
<div class="t sb" style="left:671px;width:104px;text-align:center;top:888.1px;font-size:25.5px;color:#fff;transform:scaleX(.93)">5.07</div>
<div class="t" dir="rtl" style="left:775px;width:93px;text-align:center;top:890.0px;font-size:21px;font-weight:normal;color:#2e2e33;transform:scaleX(1.0);-webkit-text-stroke:.3px currentColor">الأحـد</div>
<div class="t" style="left:868px;width:38px;text-align:center;top:889.7px;font-size:24px;font-weight:normal;color:#2e2e33">25</div>
<div class="t sb" style="left:14px;width:39px;text-align:center;top:920.2px;font-size:24px;font-weight:normal;color:#ffffff">16</div>
<div class="t" style="left:59px;top:920.1px;font-size:22px;font-weight:bold;color:#fff;transform:scaleX(.86);transform-origin:0 0">L. alqadr</div>
<div class="t" style="left:152px;width:104px;text-align:center;top:918.6px;font-size:25.5px;color:#2e2e33;transform:scaleX(.93)">20.40</div>
<div class="t sb" style="left:256px;width:103px;text-align:center;top:918.6px;font-size:25.5px;color:#fff;transform:scaleX(.93)">18.50</div>
<div class="t" style="left:359px;width:104px;text-align:center;top:918.6px;font-size:25.5px;color:#2e2e33;transform:scaleX(.93)">16.05</div>
<div class="t" style="left:463px;width:104px;text-align:center;top:918.6px;font-size:25.5px;color:#2e2e33;transform:scaleX(.93)">12.51</div>
<div class="t" style="left:567px;width:104px;text-align:center;top:918.6px;font-size:25.5px;color:#2e2e33;transform:scaleX(.93)">6.53</div>
<div class="t sb" style="left:671px;width:104px;text-align:center;top:918.6px;font-size:25.5px;color:#fff;transform:scaleX(.93)">5.04</div>
<div class="t" dir="rtl" style="left:777px;width:93px;text-align:center;top:920.5px;font-size:21px;font-weight:normal;color:#ffffff;transform:scaleX(0.95);-webkit-text-stroke:.3px currentColor">ليلة القدر</div>
<div class="t sb" style="left:868px;width:38px;text-align:center;top:920.2px;font-size:24px;font-weight:normal;color:#ffffff">26</div>
<div class="t" style="left:14px;width:39px;text-align:center;top:950.2px;font-size:24px;font-weight:normal;color:#2e2e33">17</div>
<div class="t" style="left:58.5px;top:950.9000000000001px;font-size:22px;color:#2e2e33">Ma./Di.</div>
<div class="t" style="left:152px;width:104px;text-align:center;top:948.6px;font-size:25.5px;color:#2e2e33;transform:scaleX(.93)">20.42</div>
<div class="t sb" style="left:256px;width:103px;text-align:center;top:948.6px;font-size:25.5px;color:#fff;transform:scaleX(.93)">18.52</div>
<div class="t" style="left:359px;width:104px;text-align:center;top:948.6px;font-size:25.5px;color:#2e2e33;transform:scaleX(.93)">16.06</div>
<div class="t" style="left:463px;width:104px;text-align:center;top:948.6px;font-size:25.5px;color:#2e2e33;transform:scaleX(.93)">12.51</div>
<div class="t" style="left:567px;width:104px;text-align:center;top:948.6px;font-size:25.5px;color:#2e2e33;transform:scaleX(.93)">6.51</div>
<div class="t sb" style="left:671px;width:104px;text-align:center;top:948.6px;font-size:25.5px;color:#fff;transform:scaleX(.93)">5.02</div>
<div class="t" dir="rtl" style="left:775px;width:93px;text-align:center;top:950.5px;font-size:21px;font-weight:normal;color:#2e2e33;transform:scaleX(0.97);-webkit-text-stroke:.3px currentColor">الثلاثاء</div>
<div class="t" style="left:868px;width:38px;text-align:center;top:950.2px;font-size:24px;font-weight:normal;color:#2e2e33">27</div>
<div class="t" style="left:14px;width:39px;text-align:center;top:980.2px;font-size:24px;font-weight:normal;color:#2e2e33">18</div>
<div class="t" style="left:58.5px;top:980.9000000000001px;font-size:22px;color:#2e2e33">Me./Wo.</div>
<div class="t" style="left:152px;width:104px;text-align:center;top:978.6px;font-size:25.5px;color:#2e2e33;transform:scaleX(.93)">20.44</div>
<div class="t sb" style="left:256px;width:103px;text-align:center;top:978.6px;font-size:25.5px;color:#fff;transform:scaleX(.93)">18.54</div>
<div class="t" style="left:359px;width:104px;text-align:center;top:978.6px;font-size:25.5px;color:#2e2e33;transform:scaleX(.93)">16.07</div>
<div class="t" style="left:463px;width:104px;text-align:center;top:978.6px;font-size:25.5px;color:#2e2e33;transform:scaleX(.93)">12.51</div>
<div class="t" style="left:567px;width:104px;text-align:center;top:978.6px;font-size:25.5px;color:#2e2e33;transform:scaleX(.93)">6.49</div>
<div class="t sb" style="left:671px;width:104px;text-align:center;top:978.6px;font-size:25.5px;color:#fff;transform:scaleX(.93)">4.59</div>
<div class="t" dir="rtl" style="left:775px;width:93px;text-align:center;top:980.5px;font-size:21px;font-weight:normal;color:#2e2e33;transform:scaleX(1.0);-webkit-text-stroke:.3px currentColor">الأربعاء</div>
<div class="t" style="left:868px;width:38px;text-align:center;top:980.2px;font-size:24px;font-weight:normal;color:#2e2e33">28</div>
<div class="t" style="left:14px;width:39px;text-align:center;top:1010.7px;font-size:24px;font-weight:normal;color:#2e2e33">19</div>
<div class="t" style="left:54px;top:1011.4000000000001px;font-size:22px;color:#2e2e33">Je./Do.</div>
<div class="t" style="left:152px;width:104px;text-align:center;top:1009.1px;font-size:25.5px;color:#2e2e33;transform:scaleX(.93)">20.45</div>
<div class="t sb" style="left:256px;width:103px;text-align:center;top:1009.1px;font-size:25.5px;color:#fff;transform:scaleX(.93)">18.55</div>
<div class="t" style="left:359px;width:104px;text-align:center;top:1009.1px;font-size:25.5px;color:#2e2e33;transform:scaleX(.93)">16.08</div>
<div class="t" style="left:463px;width:104px;text-align:center;top:1009.1px;font-size:25.5px;color:#2e2e33;transform:scaleX(.93)">12.50</div>
<div class="t" style="left:567px;width:104px;text-align:center;top:1009.1px;font-size:25.5px;color:#2e2e33;transform:scaleX(.93)">6.46</div>
<div class="t sb" style="left:671px;width:104px;text-align:center;top:1009.1px;font-size:25.5px;color:#fff;transform:scaleX(.93)">4.57</div>
<div class="t" dir="rtl" style="left:775px;width:93px;text-align:center;top:1011.0px;font-size:21px;font-weight:normal;color:#2e2e33;transform:scaleX(0.92);-webkit-text-stroke:.3px currentColor">الخميس</div>
<div class="t" style="left:868px;width:38px;text-align:center;top:1010.7px;font-size:24px;font-weight:normal;color:#2e2e33">29</div>
<div class="t" style="left:14px;width:39px;text-align:center;top:1041.2px;font-size:24px;font-weight:bold;color:#2e2e33">20</div>
<div class="t" style="left:55px;top:1042.7px;font-size:19px;font-weight:bold;color:#2e2e33;transform:scaleX(.95);transform-origin:0 0">Aid Alfitr</div>
<svg style="position:absolute;left:131px;top:1039px" width="18" height="25" viewBox="0 0 20 26" preserveAspectRatio="none"><path d="M8 1 C1.5 5 0 13.5 2.5 19.5 C5 24.5 12.5 26.5 19.5 24 C13 23.5 7.5 20 6 14 C5 9 5.5 4.5 8 1 Z" fill="#d84848"/><path d="M14.8 1 L15.6 3.5 L16.6 4.5 L15.9 5.5 L16.2 10 L17.3 11.5 L16.6 12.5 L16.9 21 L17.5 22.5 L12.3 22.5 L12.9 21 L13.2 12.5 L12.5 11.5 L13.6 10 L13.9 5.5 L13.2 4.5 L14.1 3.5 Z" fill="#e05060"/></svg>
<div class="t sb" style="left:152px;width:104px;text-align:center;top:1039.6000000000001px;font-size:25.5px;color:#fff;transform:scaleX(.93)">20.47</div>
<div class="t sb" style="left:256px;width:103px;text-align:center;top:1039.6000000000001px;font-size:25.5px;color:#fff;transform:scaleX(.93)">18.57</div>
<div class="t sb" style="left:359px;width:104px;text-align:center;top:1039.6000000000001px;font-size:25.5px;color:#fff;transform:scaleX(.93)">16.09</div>
<div class="t sb" style="left:463px;width:104px;text-align:center;top:1039.6000000000001px;font-size:25.5px;color:#fff;transform:scaleX(.93)">12.50</div>
<div class="t sb" style="left:567px;width:104px;text-align:center;top:1039.6000000000001px;font-size:25.5px;color:#fff;transform:scaleX(.93)">6.44</div>
<div class="t sb" style="left:671px;width:104px;text-align:center;top:1039.6000000000001px;font-size:25.5px;color:#fff;transform:scaleX(.93)">4.54</div>
<div class="t" dir="rtl" style="left:794px;width:80px;text-align:center;top:1041.5px;font-size:21px;font-weight:bold;color:#2e2e33;transform:scaleX(0.8)">عيد الفطر</div>
<svg style="position:absolute;left:776px;top:1039px" width="17" height="25" viewBox="0 0 20 26" preserveAspectRatio="none"><path d="M8 1 C1.5 5 0 13.5 2.5 19.5 C5 24.5 12.5 26.5 19.5 24 C13 23.5 7.5 20 6 14 C5 9 5.5 4.5 8 1 Z" fill="#d84848"/><path d="M14.8 1 L15.6 3.5 L16.6 4.5 L15.9 5.5 L16.2 10 L17.3 11.5 L16.6 12.5 L16.9 21 L17.5 22.5 L12.3 22.5 L12.9 21 L13.2 12.5 L12.5 11.5 L13.6 10 L13.9 5.5 L13.2 4.5 L14.1 3.5 Z" fill="#e05060"/></svg>
<div class="t" style="left:868px;width:38px;text-align:center;top:1041.2px;font-size:24px;font-weight:bold;color:#2e2e33">01</div>
<div class="t" dir="rtl" style="left:14px;width:138px;text-align:center;top:22.8px;font-size:17px;color:#444;">فبراير / مارس</div>
<div class="t" style="left:24px;top:48.3px;font-size:19.5px;font-weight:bold;color:#222;transform:scaleX(.82);transform-origin:0 0">Februari / Maart</div>
<div class="t" style="left:24px;top:76.6px;font-size:19.5px;font-weight:bold;color:#222;transform:scaleX(.955);transform-origin:0 0">Fevrier / Mars</div>
<div class="t" style="left:14px;width:138px;text-align:center;top:96.5px;font-size:23px;color:#3f67ad;font-weight:bold;letter-spacing:6.5px;text-indent:6.5px">2026</div>
<div class="t" dir="rtl" style="left:152px;width:104px;text-align:center;top:29px;font-size:17.5px;color:#2e2e33;font-weight:bold">العشاء</div>
<div class="t" style="left:152px;width:104px;text-align:center;top:59.5px;font-size:25.5px;color:#2e2e33;"><b>Y</b>atsi</div>
<div class="t ser" style="left:152px;width:104px;text-align:center;top:95px;font-size:17px;color:#222;">‘Icha</div>
<div class="t" dir="rtl" style="left:256px;width:103px;text-align:center;top:29px;font-size:17.5px;color:#3f67ad;font-weight:bold">المغرب</div>
<div class="t" style="left:256px;width:103px;text-align:center;top:61px;font-size:24.5px;color:#3f67ad;font-weight:bold">Akşam</div>
<div class="t ser" style="left:256px;width:103px;text-align:center;top:95px;font-size:17px;color:#3f67ad;">Maghrib</div>
<div class="t" dir="rtl" style="left:359px;width:104px;text-align:center;top:29px;font-size:17.5px;color:#2e2e33;font-weight:bold">العصر</div>
<div class="t" style="left:359px;width:104px;text-align:center;top:59.5px;font-size:25.5px;color:#2e2e33;"><b>İ</b>kindi</div>
<div class="t ser" style="left:359px;width:104px;text-align:center;top:95px;font-size:17px;color:#222;">‘Asr</div>
<div class="t" dir="rtl" style="left:463px;width:104px;text-align:center;top:29px;font-size:17.5px;color:#2e2e33;font-weight:bold">الظهر</div>
<div class="t" style="left:463px;width:104px;text-align:center;top:59.5px;font-size:25.5px;color:#2e2e33;"><b>Ö</b>ğle</div>
<div class="t ser" style="left:463px;width:104px;text-align:center;top:95px;font-size:17px;color:#222;">Dohr</div>
<div class="t" dir="rtl" style="left:567px;width:104px;text-align:center;top:29px;font-size:17.5px;color:#2e2e33;font-weight:bold">الشروق</div>
<div class="t" style="left:567px;width:104px;text-align:center;top:59.5px;font-size:25px;color:#2e2e33;transform:scaleX(.93)"><b>G</b>üneş</div>
<div class="t ser" style="left:567px;width:104px;text-align:center;top:95px;font-size:17px;color:#222;">Chourouq</div>
<div class="t" dir="rtl" style="left:671px;width:104px;text-align:center;top:24px;font-size:12px;color:#3f67ad;font-weight:bold">الإمساك</div>
<div class="t" dir="rtl" style="left:671px;width:104px;text-align:center;top:46px;font-size:12px;color:#3f67ad;font-weight:bold">والفجر</div>
<div class="t" style="left:671px;width:104px;text-align:center;top:64px;font-size:24px;color:#3f67ad;font-weight:bold">Imsak</div>
<div class="t ser" style="left:671px;width:104px;text-align:center;top:95px;font-size:17px;color:#3f67ad;">Fajr</div>
<div class="t" dir="rtl" style="left:775px;width:131px;text-align:center;top:24px;font-size:30px;color:#222;transform:scaleX(.95)">رمضــان</div>
<div class="t" style="left:775px;width:131px;text-align:center;top:65px;font-size:22.5px;color:#222;font-weight:bold">Ramadan</div>
<div class="t" style="left:775px;width:131px;text-align:center;top:91.5px;font-size:23px;color:#1f8a5a;font-weight:bold;letter-spacing:5.5px;text-indent:5.5px">1447</div>
</div></body></html>
